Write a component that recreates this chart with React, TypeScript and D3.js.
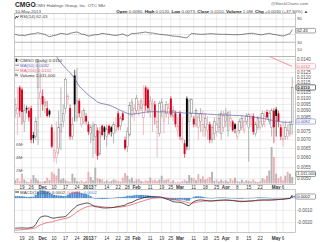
import React from "react";
import * as d3 from "d3";

const dates = [
  "2012-11-14","2012-11-15","2012-11-16","2012-11-19","2012-11-20","2012-11-21","2012-11-23","2012-11-26","2012-11-27","2012-11-28","2012-11-29","2012-11-30",
  "2012-12-03","2012-12-04","2012-12-05","2012-12-06","2012-12-07","2012-12-10","2012-12-11","2012-12-12","2012-12-13","2012-12-14","2012-12-17","2012-12-18","2012-12-19","2012-12-20","2012-12-21","2012-12-24","2012-12-26","2012-12-27","2012-12-28","2012-12-31",
  "2013-01-02","2013-01-03","2013-01-04","2013-01-07","2013-01-08","2013-01-09","2013-01-10","2013-01-11","2013-01-14","2013-01-15","2013-01-16","2013-01-17","2013-01-18","2013-01-22","2013-01-23","2013-01-24","2013-01-25","2013-01-28","2013-01-29","2013-01-30","2013-01-31",
  "2013-02-01","2013-02-04","2013-02-05","2013-02-06","2013-02-07","2013-02-08","2013-02-11","2013-02-12","2013-02-13","2013-02-14","2013-02-15","2013-02-19","2013-02-20","2013-02-21","2013-02-22","2013-02-25","2013-02-26","2013-02-27","2013-02-28",
  "2013-03-01","2013-03-04","2013-03-05","2013-03-06","2013-03-07","2013-03-08","2013-03-11","2013-03-12","2013-03-13","2013-03-14","2013-03-15","2013-03-18","2013-03-19","2013-03-20","2013-03-21","2013-03-22","2013-03-25","2013-03-26","2013-03-27","2013-03-28",
  "2013-04-01","2013-04-02","2013-04-03","2013-04-04","2013-04-05","2013-04-08","2013-04-09","2013-04-10","2013-04-11","2013-04-12","2013-04-15","2013-04-16","2013-04-17","2013-04-18","2013-04-19","2013-04-22","2013-04-23","2013-04-24","2013-04-25","2013-04-26","2013-04-29","2013-04-30",
  "2013-05-01","2013-05-02","2013-05-03","2013-05-06","2013-05-07","2013-05-08","2013-05-09","2013-05-10"
];

const open = [
  0.0090,0.0088,0.0110,0.0108,0.0082,0.0092,0.0090,0.0092,0.0073,0.0072,
  0.0110,0.0100,0.0102,0.0094,0.0092,0.0090,0.0078,0.0060,0.0060,0.0065,
  0.0075,0.0082,0.0092,0.0099,0.0092,0.0072,0.0122,0.0085,0.0098,0.0080,
  0.0082,0.0086,0.0080,0.0074,0.0070,0.0072,0.0076,0.0062,0.0079,0.0078,
  0.0072,0.0079,0.0078,0.0074,0.0076,0.0088,0.0079,0.0088,0.0070,0.0066,
  0.0073,0.0090,0.0088,0.0090,0.0090,0.0092,0.0085,0.0110,0.0108,0.0090,
  0.0095,0.0095,0.0078,0.0074,0.0090,0.0082,0.0088,0.0088,0.0100,0.0086,
  0.0088,0.0076,0.0088,0.0070,0.0068,0.0100,0.0082,0.0088,0.0084,0.0080,
  0.0078,0.0082,0.0076,0.0078,0.0076,0.0080,0.0070,0.0074,0.0075,0.0078,
  0.0074,0.0078,0.0082,0.0076,0.0082,0.0082,0.0080,0.0072,0.0076,0.0078,
  0.0076,0.0082,0.0078,0.0080,0.0086,0.0074,0.0078,0.0078,0.0080,0.0082,
  0.0089,0.0082,0.0078,0.0090,0.0091,0.0088,0.0078,0.0070,0.0072,0.0072,
  0.0074,0.0080
];
const high = [
  0.0100,0.0110,0.0112,0.0110,0.0095,0.0094,0.0093,0.0094,0.0075,0.0085,
  0.0141,0.0125,0.0108,0.0100,0.0098,0.0091,0.0080,0.0075,0.0082,0.0090,
  0.0110,0.0095,0.0120,0.0104,0.0095,0.0085,0.0128,0.0130,0.0100,0.0090,
  0.0092,0.0088,0.0082,0.0080,0.0082,0.0080,0.0078,0.0078,0.0080,0.0079,
  0.0080,0.0080,0.0079,0.0082,0.0085,0.0090,0.0086,0.0089,0.0072,0.0078,
  0.0097,0.0100,0.0095,0.0103,0.0098,0.0100,0.0112,0.0112,0.0110,0.0102,
  0.0100,0.0098,0.0090,0.0098,0.0100,0.0095,0.0098,0.0096,0.0102,0.0094,
  0.0090,0.0085,0.0090,0.0085,0.0070,0.0102,0.0100,0.0100,0.0086,0.0092,
  0.0088,0.0092,0.0090,0.0088,0.0086,0.0082,0.0080,0.0085,0.0086,0.0088,
  0.0090,0.0090,0.0092,0.0089,0.0090,0.0083,0.0081,0.0080,0.0084,0.0086,
  0.0085,0.0088,0.0088,0.0088,0.0088,0.0082,0.0086,0.0088,0.0090,0.0090,
  0.0091,0.0090,0.0092,0.0092,0.0093,0.0090,0.0080,0.0082,0.0082,0.0080,
  0.0082,0.0120
];
const low = [
  0.0085,0.0073,0.0085,0.0080,0.0075,0.0088,0.0082,0.0068,0.0068,0.0070,
  0.0067,0.0085,0.0090,0.0088,0.0085,0.0085,0.0065,0.0058,0.0057,0.0062,
  0.0064,0.0078,0.0088,0.0095,0.0070,0.0070,0.0082,0.0082,0.0085,0.0078,
  0.0080,0.0080,0.0073,0.0068,0.0060,0.0062,0.0059,0.0061,0.0072,0.0070,
  0.0066,0.0073,0.0072,0.0068,0.0074,0.0076,0.0076,0.0082,0.0064,0.0063,
  0.0072,0.0085,0.0082,0.0088,0.0086,0.0090,0.0073,0.0090,0.0088,0.0085,
  0.0075,0.0080,0.0060,0.0072,0.0085,0.0074,0.0085,0.0080,0.0085,0.0082,
  0.0078,0.0072,0.0070,0.0068,0.0060,0.0064,0.0064,0.0085,0.0078,0.0078,
  0.0070,0.0075,0.0072,0.0072,0.0070,0.0068,0.0068,0.0070,0.0072,0.0074,
  0.0070,0.0075,0.0078,0.0072,0.0078,0.0075,0.0074,0.0070,0.0074,0.0076,
  0.0074,0.0080,0.0058,0.0078,0.0073,0.0072,0.0076,0.0076,0.0078,0.0078,
  0.0084,0.0080,0.0072,0.0068,0.0072,0.0078,0.0070,0.0066,0.0070,0.0070,
  0.0072,0.0073
];
const close = [
  0.0095,0.0092,0.0090,0.0089,0.0090,0.0091,0.0085,0.0070,0.0071,0.0082,
  0.0138,0.0105,0.0095,0.0097,0.0086,0.0087,0.0066,0.0064,0.0063,0.0078,
  0.0080,0.0088,0.0118,0.0102,0.0072,0.0080,0.0095,0.0098,0.0088,0.0085,
  0.0090,0.0082,0.0075,0.0078,0.0079,0.0080,0.0061,0.0075,0.0073,0.0075,
  0.0077,0.0074,0.0075,0.0080,0.0079,0.0078,0.0084,0.0083,0.0065,0.0075,
  0.0094,0.0097,0.0092,0.0100,0.0095,0.0098,0.0095,0.0094,0.0092,0.0098,
  0.0096,0.0085,0.0082,0.0096,0.0097,0.0090,0.0095,0.0092,0.0087,0.0090,
  0.0080,0.0079,0.0072,0.0071,0.0062,0.0066,0.0098,0.0099,0.0080,0.0090,
  0.0085,0.0088,0.0080,0.0084,0.0080,0.0070,0.0078,0.0082,0.0080,0.0084,
  0.0088,0.0086,0.0088,0.0089,0.0084,0.0076,0.0077,0.0075,0.0082,0.0084,
  0.0082,0.0086,0.0087,0.0084,0.0075,0.0080,0.0084,0.0082,0.0088,0.0086,
  0.0085,0.0088,0.0090,0.0078,0.0086,0.0082,0.0072,0.0071,0.0078,0.0076,
  0.0080,0.0110
];
// volume in millions of shares
const volume = [
  0.5,0.8,0.4,1.5,0.6,0.3,0.2,0.6,1.3,0.8,
  0.5,0.3,0.3,0.4,0.9,0.5,1.8,1.5,1.2,2.3,
  0.6,0.8,0.5,0.4,0.3,1.5,0.9,0.4,0.3,0.5,
  0.2,0.4,1.8,1.0,0.5,2.45,0.8,0.7,0.6,0.3,
  0.5,0.3,0.4,0.6,0.5,0.4,0.3,0.9,1.6,1.2,
  0.6,0.9,0.4,0.6,0.7,0.4,0.3,0.5,0.4,0.9,
  0.5,0.6,0.4,0.6,1.2,0.5,0.6,0.7,0.3,0.5,
  0.2,0.3,0.2,0.4,0.6,0.4,1.3,0.9,0.8,0.5,
  1.45,0.7,1.1,0.6,0.8,1.0,1.8,0.4,0.6,0.3,
  0.6,0.4,0.5,0.3,0.8,0.5,0.9,0.4,0.3,0.6,
  0.3,0.5,0.4,0.3,0.6,0.3,0.2,0.4,0.8,0.6,
  1.2,2.0,5.6,4.1,1.5,0.8,1.1,0.5,1.2,1.8,
  1.5,1.011
];
const ma50 = [
  null,null,null,null,null,null,null,null,null,null,
  null,null,null,null,null,null,null,null,0.01440,0.01395,
  0.01360,0.01330,0.01300,0.01275,0.01250,0.01220,0.01185,0.01150,0.01110,0.01090,
  0.01070,0.01050,0.01030,0.01015,0.01000,0.00985,0.00970,0.00962,0.00957,0.00953,
  0.00949,0.00945,0.00937,0.00928,0.00920,0.00911,0.00903,0.00895,0.00887,0.00879,
  0.00874,0.00873,0.00875,0.00877,0.00880,0.00883,0.00886,0.00889,0.00891,0.00892,
  0.00892,0.00893,0.00892,0.00891,0.00892,0.00891,0.00890,0.00890,0.00889,0.00889,
  0.00888,0.00887,0.00886,0.00884,0.00882,0.00881,0.00882,0.00881,0.00880,0.00879,
  0.00878,0.00877,0.00876,0.00875,0.00874,0.00873,0.00872,0.00871,0.00870,0.00869,
  0.00868,0.00868,0.00867,0.00866,0.00866,0.00865,0.00864,0.00864,0.00863,0.00862,
  0.00860,0.00858,0.00856,0.00854,0.00852,0.00850,0.00848,0.00846,0.00843,0.00840,
  0.00836,0.00832,0.00829,0.00826,0.00823,0.00820,0.00818,0.00816,0.00815,0.00814,
  0.00815,0.00820
];
const ma200 = [
  ...Array(107).fill(null),
  0.01485,0.01473,0.01461,0.01449,0.01437,0.01425,0.01413,0.01401,0.01389,0.01377,
  0.01365,0.01353,0.01341,0.01330,0.01320
];
const rsi = [
  50.5,49,47.5,48.5,47,48.7,50,51.5,52,53,
  54.5,53,51.5,50.5,47,44.3,46,47.5,48.7,51,
  53,52,51,50.5,53,54.5,55.5,56.5,54,51,
  50.5,48,46,47,48.5,49.3,49.5,51,53,52,
  51,50.5,49,48,47.9,48.5,50,51.3,48.5,46,
  49,53,52.5,53,53.8,54.5,55.5,56.5,55,54,
  53.8,52.5,51.5,50.5,50,49.2,48.7,48,47,46,
  45.5,45,44.3,43,42,41.7,47,53,52,51.5,
  51,50.5,50.5,51,51.5,52,52,51.5,51,50.8,
  50.5,50.5,50.5,50,49.8,49.5,49.5,49.8,49.5,50,
  51,52,52.5,53,53,51.5,50.5,49.5,49.5,51,
  52,53,51.5,50,49.5,48,47,46,48,50.5,
  52,62.43
];
const macd = [
  -0.00246,-0.00245,-0.00244,-0.00243,-0.00244,-0.00245,-0.00244,-0.00240,-0.00236,-0.00215,
  -0.00180,-0.00156,-0.00150,-0.00146,-0.00148,-0.00155,-0.00162,-0.00164,-0.00160,-0.00157,
  -0.00155,-0.00154,-0.00150,-0.00135,-0.00115,-0.00095,-0.00080,-0.00062,-0.00055,-0.00050,
  -0.00046,-0.00041,-0.00042,-0.00050,-0.00062,-0.00070,-0.00073,-0.00076,-0.00080,-0.00081,
  -0.00081,-0.00080,-0.00079,-0.00076,-0.00072,-0.00068,-0.00066,-0.00062,-0.00058,-0.00046,
  -0.00040,-0.00036,-0.00025,-0.00016,-0.00010,-0.00004,0.00002,0.00006,0.00009,0.00011,
  0.00011,0.00011,0.00010,0.00010,0.00006,0.00000,-0.00008,-0.00014,-0.00022,-0.00030,
  -0.00032,-0.00034,-0.00035,-0.00040,-0.00048,-0.00057,-0.00063,-0.00045,-0.00030,-0.00022,
  -0.00017,-0.00016,-0.00017,-0.00020,-0.00022,-0.00024,-0.00024,-0.00022,-0.00020,-0.00018,
  -0.00017,-0.00016,-0.00016,-0.00017,-0.00019,-0.00021,-0.00024,-0.00027,-0.00029,-0.00030,
  -0.00029,-0.00027,-0.00025,-0.00024,-0.00023,-0.00020,-0.00017,-0.00016,-0.00015,-0.00015,
  -0.00016,-0.00016,-0.00016,-0.00015,-0.00014,-0.00012,-0.00011,-0.00010,-0.00008,-0.00005,
  -0.00004,0.00024
];
const signal = [
  -0.00262,-0.00261,-0.00259,-0.00257,-0.00256,-0.00254,-0.00252,-0.00250,-0.00247,-0.00241,
  -0.00229,-0.00219,-0.00212,-0.00205,-0.00200,-0.00197,-0.00195,-0.00189,-0.00183,-0.00178,
  -0.00174,-0.00170,-0.00166,-0.00162,-0.00153,-0.00141,-0.00128,-0.00113,-0.00102,-0.00091,
  -0.00082,-0.00074,-0.00068,-0.00065,-0.00064,-0.00065,-0.00067,-0.00069,-0.00071,-0.00073,
  -0.00075,-0.00076,-0.00077,-0.00077,-0.00076,-0.00075,-0.00073,-0.00071,-0.00068,-0.00064,
  -0.00059,-0.00054,-0.00048,-0.00042,-0.00035,-0.00029,-0.00023,-0.00017,-0.00012,-0.00007,
  -0.00003,0.00000,0.00002,0.00003,0.00004,0.00003,0.00001,-0.00002,-0.00006,-0.00011,
  -0.00015,-0.00019,-0.00022,-0.00026,-0.00030,-0.00035,-0.00041,-0.00042,-0.00040,-0.00036,
  -0.00032,-0.00029,-0.00026,-0.00025,-0.00024,-0.00024,-0.00024,-0.00023,-0.00023,-0.00022,
  -0.00021,-0.00020,-0.00019,-0.00019,-0.00019,-0.00019,-0.00020,-0.00022,-0.00023,-0.00024,
  -0.00025,-0.00025,-0.00025,-0.00025,-0.00024,-0.00023,-0.00022,-0.00021,-0.00020,-0.00019,
  -0.00018,-0.00017,-0.00016,-0.00015,-0.00014,-0.00013,-0.00012,-0.00010,-0.00008,-0.00006,
  -0.00002,0.00006
];

const xTickDates = ["2012-11-19","2012-11-26","2012-12-03","2012-12-10","2012-12-17","2012-12-24","2013-01-02","2013-01-07","2013-01-14","2013-01-22","2013-01-28","2013-02-01","2013-02-11","2013-02-19","2013-02-25","2013-03-01","2013-03-11","2013-03-18","2013-03-25","2013-04-01","2013-04-08","2013-04-15","2013-04-22","2013-05-01","2013-05-06"];
const xTickLabels = ["19","26","Dec","10","17","24","2013","7","14","22","28","Feb","11","19","25","Mar","11","18","25","Apr","8","15","22","May","6"];
const boldTickLabels = ["Dec","2013","Feb","Mar","Apr","May"];
const priceTicks = [0.0050,0.0055,0.0060,0.0065,0.0070,0.0075,0.0080,0.0085,0.0090,0.0095,0.0100,0.0105,0.0110,0.0115,0.0120,0.0125,0.0130,0.0135,0.0140];
const rsiTicks = [90,70,50,30,10];
const macdTicks = [0,-0.001,-0.002];
const volTicks = [2,4,6];

const FONT = "'Liberation Sans', Arial, Helvetica, sans-serif";
const GRID = "#dedede";
const FRAME = "#b0b0b0";
const RED = "#d8001c";
const PINK = "#e8909a";
const GREYC = "#8a8a8a";

export default function App() {
  const L = 14.5, R = 295.5;
  const rsiTop = 13.5, rsiBot = 56.5;
  const pTop = 56.5, pBot = 184.5;
  const mTop = 189.5, mBot = 232.5;

  const x = d3.scaleLinear().domain([0, dates.length - 1]).range([15.13, 292.22]);
  const y = d3.scaleLog().domain([0.0140, 0.0100]).range([59.5, 98.5]);
  const yR = d3.scaleLinear().domain([90, 10]).range([19, 50]);
  const yM = d3.scaleLinear().domain([0, -0.002]).range([198, 222.6]);
  const yV = d3.scaleLinear().domain([0, 6]).range([183.5, 144.5]);

  const idx = d3.range(dates.length);
  const up = idx.map(i => (i === 0 ? true : close[i] >= close[i - 1]));
  const last = dates.length - 1;

  const rsiLine = d3.line<number>().x(i => x(i)).y(i => yR(rsi[i]))(idx) || "";
  const maLine = (arr: (number | null)[]) =>
    d3.line<number>().defined(i => arr[i] != null).x(i => x(i)).y(i => y(arr[i] as number))(idx) || "";
  const macdLine = d3.line<number>().x(i => x(i)).y(i => yM(macd[i]))(idx) || "";
  const sigLine = d3.line<number>().x(i => x(i)).y(i => yM(signal[i]))(idx) || "";
  const hist = idx.map(i => macd[i] - signal[i]);

  const tickIdx = xTickDates.map(d => dates.indexOf(d));

  // value boxes on the axes hide the tick labels right beneath them
  const boxYs = [y(ma200[last] as number), y(close[last]), y(ma50[last] as number)];
  const visiblePriceTicks = priceTicks.filter(t => boxYs.every(b => Math.abs(y(t) - b) >= 4));
  const rsiBoxY = yR(rsi[last]) + 1;
  const visibleRsiTicks = rsiTicks.filter(t => Math.abs(yR(t) - rsiBoxY) >= 4);

  const vGrid = (top: number, bot: number) =>
    tickIdx.map((k, j) => (
      <line key={"vg" + j} x1={x(k)} x2={x(k)} y1={top} y2={bot} stroke={GRID} strokeWidth={0.6} />
    ));

  const xLabels = (yy: number) =>
    tickIdx.map((k, j) => (
      <text key={"xl" + j} x={x(k)} y={yy} textAnchor="middle" fontSize={4.6}
        fontWeight={boldTickLabels.includes(xTickLabels[j]) ? "bold" : "normal"} fill="#333">
        {xTickLabels[j]}
      </text>
    ));

  const box = (yy: number, label: string, stroke: string, color: string, bold = false, hh = 5.2) => (
    <g>
      <rect x={296} y={yy - hh / 2} width={19.5} height={hh} fill="#fff" stroke={stroke} strokeWidth={0.6} rx={0.8} />
      <text x={297.2} y={yy} dy="0.35em" fontSize={4.2} fill={color} fontWeight={bold ? "bold" : "normal"}>{label}</text>
    </g>
  );

  return (
    <div style={{ position: "absolute", left: 0, top: 0 }}>
      <svg width={320} height={242} viewBox="0 0 320 242" style={{ display: "block", background: "#fff" }} fontFamily={FONT}>
        <defs>
          <clipPath id="clipP"><rect x={L} y={pTop} width={R - L} height={pBot - pTop} /></clipPath>
          <clipPath id="clipR"><rect x={L} y={rsiTop} width={R - L} height={rsiBot - rsiTop} /></clipPath>
          <clipPath id="clipM"><rect x={L} y={mTop} width={R - L} height={mBot - mTop} /></clipPath>
        </defs>
        <rect x={0} y={0} width={320} height={242} fill="#fff" />

        {/* Header */}
        <text x={15} y={7.2} fontSize={6.6} fontWeight="bold" fill="#222">CMGO</text>
        <text x={35} y={7.2} fontSize={4.4} fill="#555">CMG Holdings Group, Inc.  OTC Mkt</text>
        <text x={308} y={5.2} fontSize={4.3} fill="#666" textAnchor="end">@StockCharts.com</text>
        <text x={15} y={12.6} fontSize={4.4} fill="#444">10-May-2013</text>
        <text x={308} y={12.6} fontSize={4.4} fill="#444" textAnchor="end">
          <tspan fontWeight="bold" fill="#222">Open</tspan> 0.0080, <tspan fontWeight="bold" fill="#222">High</tspan> 0.0120, <tspan fontWeight="bold" fill="#222">Low</tspan> 0.0073, <tspan fontWeight="bold" fill="#222">Close</tspan> 0.0110, <tspan fontWeight="bold" fill="#222">Volume</tspan> 1.0M, <tspan fontWeight="bold" fill="#222">Chg</tspan> +0.0030 (+37.50%) ▲
        </text>

        {/* RSI panel */}
        {vGrid(rsiTop, rsiBot)}
        {rsiTicks.map(t => (
          <line key={"rg" + t} x1={L} x2={R} y1={yR(t)} y2={yR(t)}
            stroke={t === 70 || t === 30 ? "#9a9a9a" : t === 50 ? "#b8b8b8" : GRID}
            strokeWidth={t === 70 || t === 30 ? 0.7 : 0.6}
            strokeDasharray={t === 50 ? "1.2,1" : undefined} />
        ))}
        <path d={rsiLine} fill="none" stroke="#333" strokeWidth={0.6} clipPath="url(#clipR)" />
        <rect x={L} y={rsiTop} width={R - L} height={rsiBot - rsiTop} fill="none" stroke={FRAME} strokeWidth={0.7} />
        <path d="M15.2,18.6 L16.4,16.2 L17.4,17.6 L18.6,15.8" fill="none" stroke="#111" strokeWidth={0.8} />
        <text x={20} y={18.4} fontSize={4.4} fill="#444">RSI(14) 62.43</text>
        {visibleRsiTicks.map(t => (
          <text key={"rl" + t} x={297} y={yR(t)} dy="0.3em" fontSize={4.4} fill="#555">{t}</text>
        ))}
        {box(rsiBoxY, "62.43", "#666", "#222", false, 4.6)}

        {/* Price panel */}
        {vGrid(pTop, pBot)}
        {priceTicks.map(t => (
          <line key={"pg" + t} x1={L} x2={R} y1={y(t)} y2={y(t)} stroke={GRID} strokeWidth={0.6} />
        ))}
        <g clipPath="url(#clipP)">
          {idx.map(i => (
            <rect key={"v" + i} x={x(i) - 0.95} width={1.9} y={yV(volume[i])} height={yV(0) - yV(volume[i])}
              fill={up[i] ? "#b4b4b4" : "#efb0b6"} />
          ))}
          {idx.map(i => {
            const hollow = close[i] >= open[i];
            const col = up[i] ? (hollow ? GREYC : "#000") : (hollow ? PINK : RED);
            const yTop = y(Math.max(open[i], close[i]));
            const yB = y(Math.min(open[i], close[i]));
            const h = Math.max(0.7, yB - yTop);
            return (
              <g key={"c" + i}>
                <line x1={x(i)} x2={x(i)} y1={y(high[i])} y2={y(low[i])} stroke={col} strokeWidth={0.6} />
                {hollow ? (
                  <rect x={x(i) - 0.85} width={1.7} y={yTop} height={h} fill="#fff" stroke={col} strokeWidth={0.55} />
                ) : (
                  <rect x={x(i) - 0.95} width={1.9} y={yTop} height={h} fill={col} />
                )}
              </g>
            );
          })}
          <path d={maLine(ma50)} fill="none" stroke="#5c5ca8" strokeWidth={0.7} />
          <path d={maLine(ma200)} fill="none" stroke="#f0606e" strokeWidth={0.7} />
        </g>
        <rect x={L} y={pTop} width={R - L} height={pBot - pTop} fill="none" stroke={FRAME} strokeWidth={0.7} />
        {volTicks.map(t => (
          <g key={"vt" + t}>
            <text x={16} y={yV(t)} dy="0.35em" fontSize={4.3} fill="#555">{t}M</text>
            <line x1={21.5} x2={23.5} y1={yV(t)} y2={yV(t)} stroke="#999" strokeWidth={0.5} />
          </g>
        ))}
        {/* legend */}
        <rect x={15.6} y={58.6} width={1.4} height={3.2} fill="#111" />
        <rect x={17.6} y={59.2} width={1.4} height={2.4} fill="#fff" stroke="#777" strokeWidth={0.4} />
        <text x={20} y={61.8} fontSize={4.4} fill="#333">CMGO (Daily) 0.0110</text>
        <line x1={15.2} x2={19} y1={65.2} y2={65.2} stroke="#5c5ca8" strokeWidth={0.8} />
        <text x={20} y={66.8} fontSize={4.4} fill="#6a6ab8">MA(50) 0.0082</text>
        <line x1={15.2} x2={19} y1={70.2} y2={70.2} stroke="#f0606e" strokeWidth={0.8} />
        <text x={20} y={71.8} fontSize={4.4} fill="#ee6070">MA(200) 0.0132</text>
        <rect x={15.4} y={73.6} width={1.1} height={2.6} fill="#555" />
        <rect x={16.9} y={74.4} width={1.1} height={1.8} fill="#888" />
        <text x={20} y={76.8} fontSize={4.4} fill="#333">Volume 1,011,000</text>

        {visiblePriceTicks.map(t => (
          <text key={"pl" + t} x={297} y={y(t)} dy="0.35em" fontSize={4.5} fill="#555">{t.toFixed(4)}</text>
        ))}
        {box(y(ma200[last] as number), "0.0132", "#f08a94", "#e05060")}
        {box(y(close[last]), "0.0110", "#111", "#111", true)}
        {box(y(ma50[last] as number), "0.0082", "#7a7ad0", "#5050b0")}
        {box(yV(volume[last]) - 3, "1,011,000", "#555", "#333")}

        {xLabels(188.9)}

        {/* MACD panel */}
        {vGrid(mTop, mBot)}
        {macdTicks.map(t => (
          <line key={"mg" + t} x1={L} x2={R} y1={yM(t)} y2={yM(t)} stroke={t === 0 ? "#c4c4c4" : GRID} strokeWidth={0.6} />
        ))}
        <g clipPath="url(#clipM)">
          {idx.map(i => (
            <rect key={"h" + i} x={x(i) - 1.05} width={2.1}
              y={Math.min(yM(0), yM(hist[i]))} height={Math.max(0.4, Math.abs(yM(hist[i]) - yM(0)))}
              fill="#4f8fd0" />
          ))}
          <path d={sigLine} fill="none" stroke="#f04858" strokeWidth={0.7} />
          <path d={macdLine} fill="none" stroke="#111" strokeWidth={0.7} />
        </g>
        <rect x={L} y={mTop} width={R - L} height={mBot - mTop} fill="none" stroke={FRAME} strokeWidth={0.7} />
        <line x1={15.2} x2={19} y1={192} y2={192} stroke="#111" strokeWidth={0.9} />
        <text x={20} y={193.6} fontSize={4.4} fill="#444">
          MACD(12,26,9) 0.0002, <tspan fill="#f04858">0.0001</tspan>, <tspan fill="#4f8fd0">0.0002</tspan>
        </text>
        {macdTicks.filter(t => t !== 0).map(t => (
          <text key={"ml" + t} x={297} y={yM(t)} dy="0.35em" fontSize={4.5} fill="#555">{t.toFixed(4)}</text>
        ))}
        {box(yM(macd[last]) + 1.5, "0.0002", "#666", "#222")}
        <circle cx={294.2} cy={yM(macd[last]) + 1.5} r={0.9} fill="#4f8fd0" />

        {xLabels(239.8)}
      </svg>
    </div>
  );
}
